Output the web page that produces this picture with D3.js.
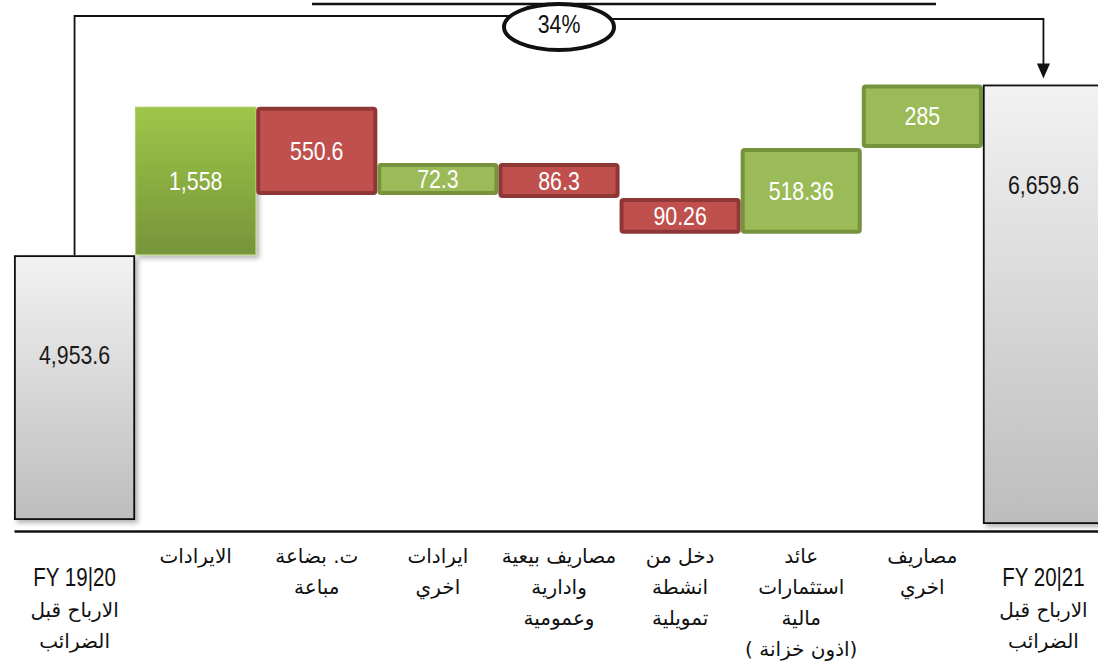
<!DOCTYPE html>
<html>
<head>
<meta charset="utf-8">
<script src="https://cdn.jsdelivr.net/npm/d3@7"></script>
<style>
  body { margin: 0; background: #fff; }
  svg { display: block; }
</style>
</head>
<body>
<svg></svg>
<script>
// data
const categories = ['start', 'revenue', 'cogs', 'otherIncome', 'sga', 'finance', 'treasury', 'otherExpense', 'end']
const tickLines = [
  ['FY 19|20', 'الارباح قبل', 'الضرائب'],
  ['الايرادات'],
  ['ت. بضاعة', 'مباعة'],
  ['ايرادات', 'اخري'],
  ['مصاريف بيعية', 'وادارية', 'وعمومية'],
  ['دخل من', 'انشطة', 'تمويلية'],
  ['عائد', 'استثمارات', 'مالية', '(اذون خزانة )'],
  ['مصاريف', 'اخري'],
  ['FY 20|21', 'الارباح قبل', 'الضرائب']
]
const startValue = 4953.6
const changes = [1558, -550.6, 72.3, -86.3, -90.26, 518.36, 285]
const endValue = 6659.6

const width = 1098
const height = 672
const base = 520
const axisY = 531
const sans = '"Liberation Sans", Arial, sans-serif'
const arabic = '"DejaVu Sans", sans-serif'
const squeeze = 0.82 // fake a narrow face, no narrow font installed
const fmt = d3.format(',')

const svg = d3.select('svg').attr('width', width).attr('height', height)

const x = d3.scaleBand().domain(categories).range([14, 1104]).padding(0)
// bar heights are not linear in the original, sqrt fits it best
const h = d3.scaleSqrt().domain([0, endValue]).range([0, 307])

// build waterfall levels
let level = base - h(startValue)
const bars = [{ i: 0, kind: 'total', value: startValue, y0: level, y1: base }]
changes.forEach((c, k) => {
  const next = level - Math.sign(c) * h(Math.abs(c))
  bars.push({
    i: k + 1,
    kind: c > 0 ? 'up' : 'down',
    value: Math.abs(c),
    y0: Math.min(level, next),
    y1: Math.max(level, next)
  })
  level = next
})
bars.push({ i: 8, kind: 'total', value: endValue, y0: level, y1: base + 4 })

// defs
const defs = svg.append('defs')
const grayGrad = defs.append('linearGradient').attr('id', 'grayGrad')
  .attr('x1', 0).attr('y1', 0).attr('x2', 0).attr('y2', 1)
grayGrad.append('stop').attr('offset', 0).attr('stop-color', '#f2f2f2')
grayGrad.append('stop').attr('offset', 1).attr('stop-color', '#bdbdbd')
const greenGrad = defs.append('linearGradient').attr('id', 'greenGrad')
  .attr('x1', 0).attr('y1', 0).attr('x2', 0).attr('y2', 1)
greenGrad.append('stop').attr('offset', 0).attr('stop-color', '#9ec649')
greenGrad.append('stop').attr('offset', 1).attr('stop-color', '#76943a')
defs.append('filter').attr('id', 'shadow')
  .attr('x', '-10%').attr('y', '-10%').attr('width', '130%').attr('height', '130%')
  .append('feDropShadow')
  .attr('dx', 3).attr('dy', 3).attr('stdDeviation', 2.5)
  .attr('flood-color', '#000').attr('flood-opacity', 0.3)

const fillOf = d => {
  if (d.kind === 'total') return 'url(#grayGrad)'
  if (d.i === 1) return 'url(#greenGrad)'
  return d.kind === 'up' ? '#9bbb59' : '#c0504d'
}
const strokeOf = d => {
  if (d.kind === 'total') return '#111'
  if (d.i === 1) return '#a9cd5e'
  return d.kind === 'up' ? '#76923c' : '#8f3735'
}
const strokeW = d => d.kind === 'total' ? 1.8 : (d.i === 1 ? 1 : 4)

// narrow text helper
function narrowText(sel, x, y, size) {
  return sel.append('text')
    .attr('transform', `translate(${x},${y}) scale(${squeeze},1)`)
    .attr('text-anchor', 'middle')
    .attr('font-family', sans)
    .attr('font-size', size)
}

// top decoration line + connector
svg.append('path')
  .attr('d', 'M312,4H936')
  .attr('stroke', '#111').attr('stroke-width', 2.5).attr('fill', 'none')

const cx0 = x(categories[0]) + x.bandwidth() / 2
const cx8 = x(categories[8]) + x.bandwidth() / 2
const midX = (cx0 + cx8) / 2
const tipY = bars[8].y0 - 6

svg.append('path')
  .attr('d', `M${cx0},${bars[0].y0}V16H${midX}`)
  .attr('stroke', '#111').attr('stroke-width', 1.8).attr('fill', 'none')
svg.append('path')
  .attr('d', `M${midX},19H${cx8}V${tipY - 14}`)
  .attr('stroke', '#111').attr('stroke-width', 1.8).attr('fill', 'none')
svg.append('path')
  .attr('d', `M${cx8 - 6.5},${tipY - 15}L${cx8 + 6.5},${tipY - 15}L${cx8},${tipY}Z`)
  .attr('fill', '#111')

// bars
svg.append('g')
  .selectAll('rect')
  .data(bars)
  .join('rect')
  .attr('x', d => x(categories[d.i]) + strokeW(d) / 2)
  .attr('y', d => d.y0 + strokeW(d) / 2)
  .attr('width', d => x.bandwidth() - strokeW(d))
  .attr('height', d => d.y1 - d.y0 - strokeW(d))
  .attr('rx', d => d.kind === 'total' || d.i === 1 ? 0 : 2)
  .attr('fill', fillOf)
  .attr('stroke', strokeOf)
  .attr('stroke-width', strokeW)
  .attr('filter', d => d.kind === 'total' || d.i === 1 ? 'url(#shadow)' : null)

// value labels
const valueG = svg.append('g')
bars.forEach(d => {
  const cy = d.kind === 'total' ? d.y0 + 100 : (d.y0 + d.y1) / 2
  narrowText(valueG, x(categories[d.i]) + x.bandwidth() / 2, cy, 26)
    .attr('dy', '0.35em')
    .attr('fill', d.kind === 'total' ? '#1a1a1a' : '#fff')
    .text(fmt(d.value))
})

// growth ellipse
const growth = d3.format('.0%')(endValue / startValue - 1)
svg.append('ellipse')
  .attr('cx', midX).attr('cy', 27).attr('rx', 55).attr('ry', 23)
  .attr('fill', '#fff').attr('stroke', '#111').attr('stroke-width', 4)
narrowText(svg, midX, 24, 26)
  .attr('dy', '0.35em')
  .attr('fill', '#111')
  .text(growth)

// axis
const axis = svg.append('g')
  .attr('transform', `translate(0,${axisY})`)
  .call(d3.axisBottom(x).tickSize(0).tickFormat(''))
axis.select('.domain').attr('stroke', '#111').attr('stroke-width', 2.5)
axis.selectAll('.tick text').remove()

axis.selectAll('.tick').each(function (d, i) {
  const lines = tickLines[i]
  const isFY = lines[0].startsWith('FY')
  const tick = d3.select(this)
  lines.forEach((line, j) => {
    const y = (isFY ? 55 : 32) + j * 31
    if (line.startsWith('FY')) {
      narrowText(tick, 0, y, 25).attr('fill', '#111').text(line)
      return
    }
    tick.append('text')
      .attr('x', 0)
      .attr('y', y)
      .attr('direction', 'rtl')
      .style('direction', 'rtl')
      .attr('text-anchor', 'middle')
      .attr('font-family', arabic)
      .attr('font-size', 20)
      .attr('fill', '#111')
      .text(line)
  })
})
</script>
</body>
</html>
